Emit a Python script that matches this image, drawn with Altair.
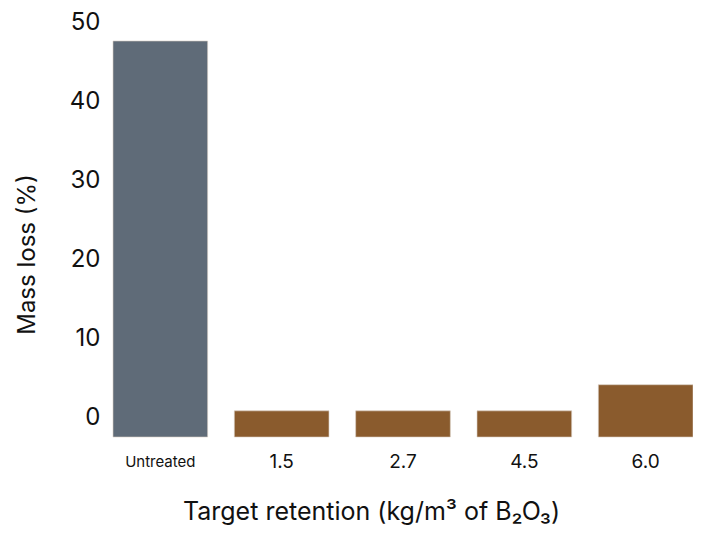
import altair as alt
import pandas as pd

categories = ["Untreated", "1.5", "2.7", "4.5", "6.0"]
mass_loss = [47.6, 0.9, 0.9, 0.9, 4.2]
colors = ["#5f6b78", "#8a5b2d", "#8a5b2d", "#8a5b2d", "#8a5b2d"]
y_ticks = [0, 10, 20, 30, 40, 50]
y_floor = -2.4

df = pd.DataFrame({"cat": categories, "val": mass_loss, "color": colors,
                   "base": [y_floor] * len(categories)})

FONT = "Inter"

chart = alt.Chart(df).mark_bar(stroke="#d9cfc4", strokeWidth=0.6).encode(
    x=alt.X("cat:N", sort=categories,
            scale=alt.Scale(paddingInner=0.22, paddingOuter=0),
            axis=alt.Axis(title="Target retention (kg/m³ of B₂O₃)",
                          labelAngle=0, ticks=False, domain=False, tickSize=0,
                          labelFont=FONT, labelColor="#111",
                          labelFontSize={"condition": {"test": "datum.value == 'Untreated'", "value": 15}, "value": 19},
                          labelBaseline="middle", labelPadding=24,
                          titleFont=FONT, titleFontSize=25, titleFontWeight="normal",
                          titleColor="#111", titleBaseline="middle",
                          titleX=258, titleY=74)),
    y=alt.Y("val:Q", scale=alt.Scale(domain=[y_floor, 50], zero=False, nice=False),
            axis=alt.Axis(title="Mass loss (%)", values=y_ticks, grid=False,
                          ticks=False, domain=False, tickSize=0,
                          labelFont=FONT, labelFontSize=24, labelColor="#111",
                          labelPadding=13,
                          titleFont=FONT, titleFontSize=24, titleFontWeight="normal",
                          titleColor="#111", titleAngle=-90, titleBaseline="middle",
                          titleX=-86, titleY=232)),
    y2="base:Q",
    color=alt.Color("color:N", scale=None),
).properties(
    width=580, height=415,
    autosize=alt.AutoSizeParams(type="none"),
    padding={"left": 105, "top": 14, "right": 0, "bottom": 89},
).configure_view(stroke=None)

chart.save("out.html", embed_options={"renderer": "svg", "actions": False})
